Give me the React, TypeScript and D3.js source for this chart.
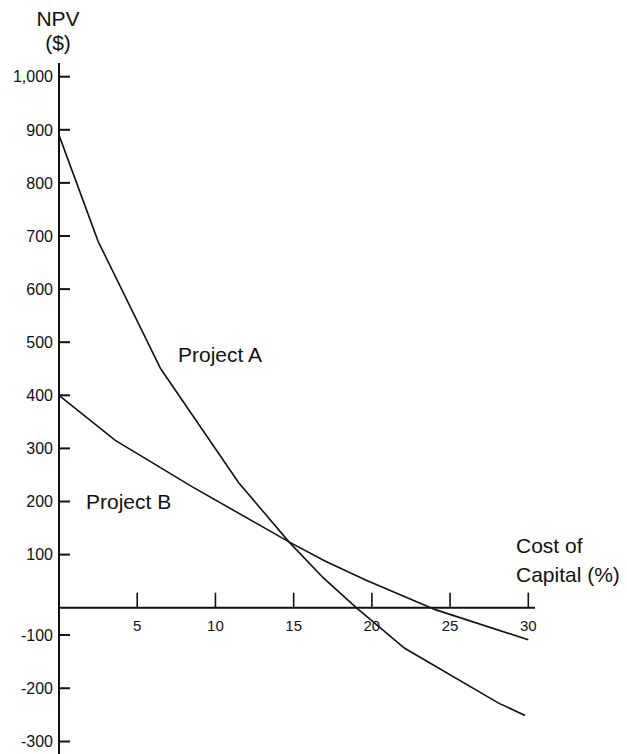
import * as d3 from 'd3';

// NPV profiles: [cost of capital %, NPV $]
const projectA: [number, number][] = [
  [0, 890], [2.5, 690], [6.5, 450], [11.5, 235], [14.7, 124],
  [16.9, 56], [19, 0], [22.1, -125], [28.1, -228], [29.8, -251],
];
const projectB: [number, number][] = [
  [0, 400], [3.6, 315], [8.5, 228], [14.7, 124], [17, 88],
  [19.6, 52], [24.1, -8], [30, -109],
];
const xTicks = [5, 10, 15, 20, 25, 30];
const yTicks = [1000, 900, 800, 700, 600, 500, 400, 300, 200, 100, -100, -200, -300];

const width = 627;
const height = 754;
const font = 'Liberation Sans, Arial, Helvetica, sans-serif';

export default function App() {
  const x = d3.scaleLinear().domain([0, 30]).range([59, 528.3]);
  // the original's negative half sits closer to the axis than the positive half
  const y = d3.scaleLinear().domain([-300, -100, 0, 1000]).range([741.5, 635, 607.7, 76.7]);

  const line = d3.line<[number, number]>()
    .x(d => x(d[0]))
    .y(d => y(d[1]));

  // plain hyphen for negatives, as in the source
  const fmt = (v: number) => d3.format(',')(v).replace('\u2212', '-');
  const x0 = x(0);
  const y0 = y(0);

  return (
    <div style={{ position: 'absolute', left: 0, top: 0 }}>
      <svg width={width} height={height} style={{ display: 'block', background: '#fff' }}>
        <g fontFamily={font} fill="#111">
          <text x={58} y={26} fontSize={21} textAnchor="middle">NPV</text>
          <text x={58} y={50} fontSize={21} textAnchor="middle">($)</text>
          <text x={516} y={553} fontSize={21}>Cost of</text>
          <text x={516} y={582} fontSize={21}>Capital (%)</text>
          <text x={178} y={362} fontSize={21}>Project A</text>
          <text x={86} y={509} fontSize={21}>Project B</text>
        </g>

        {/* y axis */}
        <line x1={x0} x2={x0} y1={63} y2={height} stroke="#111" strokeWidth={2} />
        {yTicks.map(t => (
          <g key={t}>
            <line x1={x0} x2={x0 + 11} y1={y(t)} y2={y(t)} stroke="#111" strokeWidth={2} />
            <text x={53} y={y(t)} dy="0.36em" textAnchor="end" fontSize={16} fontFamily={font} fill="#111">
              {fmt(t)}
            </text>
          </g>
        ))}

        {/* x axis */}
        <line x1={x0} x2={535} y1={y0} y2={y0} stroke="#111" strokeWidth={2} />
        {xTicks.map(t => (
          <g key={t}>
            <line x1={x(t)} x2={x(t)} y1={y0 - 15} y2={y0} stroke="#111" strokeWidth={1.6} />
            <text x={x(t)} y={631} textAnchor="middle" fontSize={15} fontFamily={font} fill="#111">
              {t}
            </text>
          </g>
        ))}

        <path d={line(projectA) ?? ''} fill="none" stroke="#111" strokeWidth={1.6} />
        <path d={line(projectB) ?? ''} fill="none" stroke="#111" strokeWidth={1.6} />
      </svg>
    </div>
  );
}
